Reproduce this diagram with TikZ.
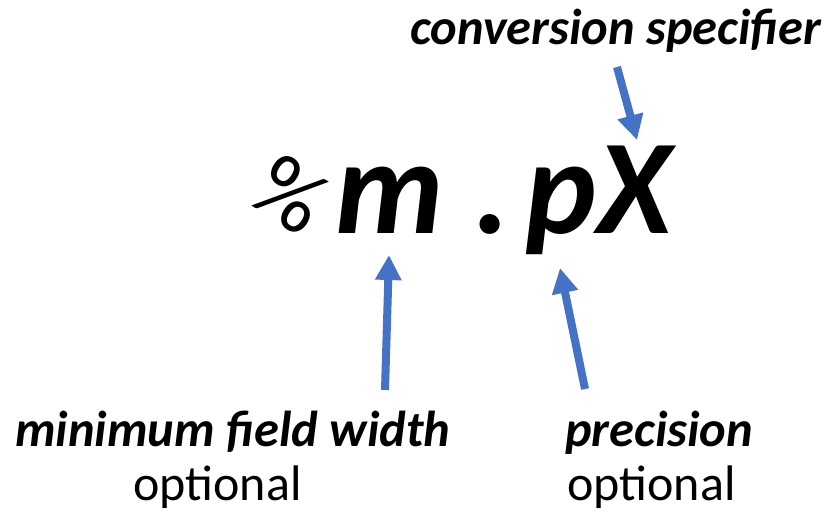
\documentclass[tikz,border=0pt]{standalone}
\usepackage{fontspec}
\setmainfont{Carlito}
\usetikzlibrary{arrows.meta}
\definecolor{arrowblue}{RGB}{68,114,196}
\begin{document}
\begin{tikzpicture}[x=1pt,y=-1pt,
  lbl/.style={inner sep=0pt, font=\fontsize{50.5}{60}\selectfont\bfseries\itshape, anchor=base west},
  opt/.style={inner sep=0pt, font=\fontsize{50}{60}\selectfont, anchor=base west},
  big/.style={inner sep=0pt, font=\fontsize{135}{160}\selectfont\bfseries\itshape, anchor=base west},
  blu/.style={draw=arrowblue, line width=8pt, -{Triangle[width=25pt,length=25pt]}}]
\useasboundingbox (0,0) rectangle (831,515);
\node[lbl] (conv) at (410,44) {conversion specifier};
\node[big] (fmt) at (335,233) {\llap{\raisebox{8pt}{\rotatebox[origin=c]{-33}{\fontsize{92}{110}\selectfont\upshape\mdseries\%}}\kern-1pt}m . \kern-25pt pX};
\node[lbl] (mfw) at (15,446) {minimum field width};
\node[opt] (opt1) at (133,500) {optional};
\node[lbl] (prec) at (565,446) {precision};
\node[opt] (opt2) at (567,500) {optional};
\coordinate (t1) at (385,390);
\coordinate (h1) at (389,255);
\coordinate (t2) at (585,389);
\coordinate (h2) at (560,268);
\coordinate (t3) at (617,67);
\coordinate (h3) at (637,140);
\draw[blu] (t1) -- (h1);
\draw[blu] (t2) -- (h2);
\draw[blu] (t3) -- (h3);
\end{tikzpicture}
\end{document}
